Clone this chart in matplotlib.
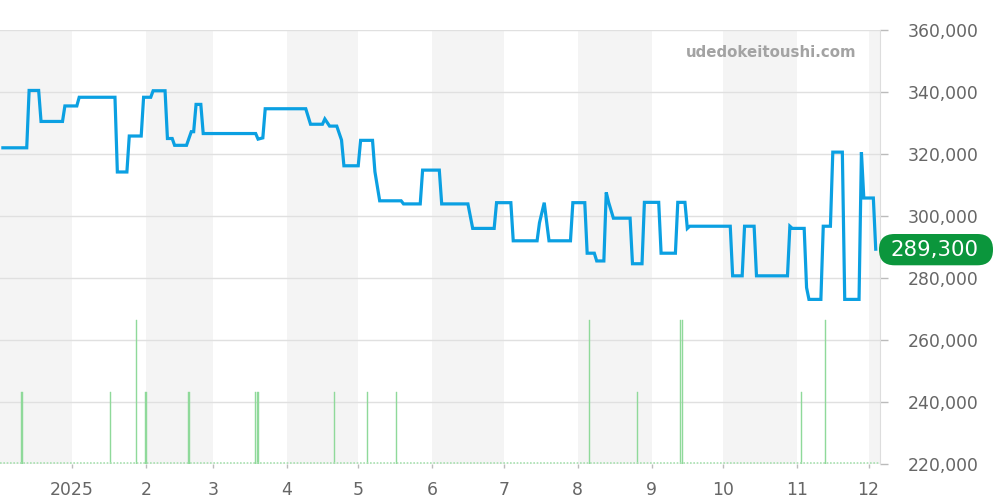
import matplotlib
matplotlib.use("Agg")
import matplotlib.pyplot as plt
from matplotlib.patches import FancyBboxPatch
from matplotlib.transforms import IdentityTransform
import pandas as pd

price_dates = [
  "2024-12-03", "2024-12-13", "2024-12-14", "2024-12-18", "2024-12-19", "2024-12-28", "2024-12-29",
  "2025-01-03", "2025-01-04", "2025-01-19", "2025-01-20", "2025-01-24", "2025-01-25", "2025-01-30",
  "2025-01-31", "2025-02-03", "2025-02-04", "2025-02-09", "2025-02-10", "2025-02-12", "2025-02-13",
  "2025-02-18", "2025-02-20", "2025-02-21", "2025-02-22", "2025-02-24", "2025-02-25", "2025-03-19",
  "2025-03-20", "2025-03-22", "2025-03-23", "2025-04-09", "2025-04-11", "2025-04-16", "2025-04-17",
  "2025-04-19", "2025-04-22", "2025-04-24", "2025-04-25", "2025-05-01", "2025-05-02", "2025-05-07",
  "2025-05-08", "2025-05-10", "2025-05-19", "2025-05-20", "2025-05-27", "2025-05-28", "2025-06-04",
  "2025-06-05", "2025-06-16", "2025-06-18", "2025-06-27", "2025-06-28", "2025-07-04", "2025-07-05",
  "2025-07-15", "2025-07-16", "2025-07-18", "2025-07-20", "2025-07-29", "2025-07-30", "2025-08-04",
  "2025-08-05", "2025-08-08", "2025-08-09", "2025-08-12", "2025-08-13", "2025-08-14", "2025-08-16",
  "2025-08-23", "2025-08-24", "2025-08-28", "2025-08-29", "2025-09-04", "2025-09-05", "2025-09-11",
  "2025-09-12", "2025-09-15", "2025-09-16", "2025-09-17", "2025-10-04", "2025-10-05", "2025-10-09",
  "2025-10-10", "2025-10-14", "2025-10-15", "2025-10-28", "2025-10-29", "2025-10-30", "2025-11-04",
  "2025-11-05", "2025-11-06", "2025-11-11", "2025-11-12", "2025-11-15", "2025-11-16", "2025-11-20",
  "2025-11-21", "2025-11-27", "2025-11-28", "2025-11-29", "2025-12-03", "2025-12-04",
]
prices = [
  322000, 322000, 340500, 340500, 330500, 330500, 335500,
  335500, 338300, 338300, 314200, 314200, 325800, 325800,
  338300, 338300, 340400, 340400, 325000, 325000, 322800,
  322800, 327200, 327200, 336000, 336000, 326600, 326600,
  324800, 325200, 334600, 334600, 329600, 329600, 331300,
  329000, 329000, 324500, 316200, 316200, 324400, 324400,
  314300, 304900, 304900, 303900, 303900, 314800, 314800,
  303900, 303900, 296000, 296000, 304300, 304300, 292000,
  292000, 297800, 304300, 292000, 292000, 304300, 304300,
  288000, 288000, 285500, 285500, 307600, 304400, 299300,
  299300, 284600, 284600, 304400, 304400, 288000, 288000,
  304400, 304400, 296000, 296700, 296700, 280700, 280700,
  296700, 296700, 280700, 280700, 296700, 296000, 296000,
  276900, 273100, 273100, 296700, 296700, 320600, 320600,
  273100, 273100, 320600, 305800, 305800, 289300,
]

volume_dates = [
  "2024-12-11", "2025-01-17", "2025-01-28", "2025-02-01", "2025-02-19", "2025-03-19", "2025-03-20",
  "2025-04-21", "2025-05-05", "2025-05-17", "2025-08-06", "2025-08-26", "2025-09-13", "2025-09-14",
  "2025-11-03", "2025-11-13",
]
volumes = [1, 1, 2, 1, 1, 1, 1, 1, 1, 1, 2, 1, 2, 2, 1, 2]

month_starts = pd.date_range("2025-01-01", "2025-12-01", freq="MS")
month_labels = ["2025", "2", "3", "4", "5", "6", "7", "8", "9", "10", "11", "12"]
shaded_months = ["2024-12-01", "2025-02-01", "2025-04-01", "2025-06-01", "2025-08-01", "2025-10-01", "2025-12-01"]

y_ticks = [220000, 240000, 260000, 280000, 300000, 320000, 340000, 360000]
last_price = prices[-1]

x0 = pd.Timestamp("2024-12-01 19:00")
x1 = pd.Timestamp("2025-12-05 19:00")

fig = plt.figure(figsize=(10, 5), dpi=100)
ax = fig.add_axes([0.0, 0.072, 0.88, 0.868])

# alternating month bands
for m in shaded_months:
  start = pd.Timestamp(m)
  end = start + pd.offsets.MonthBegin(1)
  ax.axvspan(start, end, color="#f4f4f4", lw=0, zorder=0)

ax.set_yticks(y_ticks)
ax.grid(axis="y", color="#e0e0e0", lw=1, zorder=1)
ax.set_axisbelow(True)

ax.plot(pd.to_datetime(price_dates), prices, color="#0ba0e2", lw=2.3, zorder=3,
        solid_joinstyle="miter")

ax.set_xlim(x0, x1)
ax.set_ylim(220000, 360000)

# volume on a hidden twin axis
ax2 = ax.twinx()
ax2.bar(pd.to_datetime(volume_dates), volumes, width=0.55, color="#8fd99a",
        edgecolor="#8fd99a", lw=0.3, zorder=2)
ax2.axhline(0.02, color="#a8e0b0", lw=1.2, ls=(0, (1, 1)))
ax2.set_ylim(0, 6.03)
ax2.set_xlim(x0, x1)
ax2.set_yticks([])
for s in ax2.spines.values():
  s.set_visible(False)

ax.yaxis.tick_right()
ax.yaxis.set_major_formatter(matplotlib.ticker.FuncFormatter(lambda v, p: "{:,.0f}".format(v)))
ax.tick_params(axis="y", length=6, width=1, color="#bbbbbb", pad=14, labelsize=12.4, labelcolor="#666666")
ax.set_xticks(month_starts)
ax.set_xticklabels(month_labels)
ax.tick_params(axis="x", length=3, width=1, color="#bbbbbb", pad=9, labelsize=12.4, labelcolor="#666666")

for s in ["top", "left", "bottom"]:
  ax.spines[s].set_visible(False)
ax.spines["right"].set_color("#dddddd")

ax.text(0.876, 0.949, "udedokeitoushi.com", transform=ax.transAxes, ha="center", va="center",
        fontsize=10.8, fontweight="bold", color="#a3a3a3")

# last price badge
badge = FancyBboxPatch((879, 234.7), 114, 31.3, boxstyle="round,pad=0,rounding_size=15.5",
                       transform=IdentityTransform(), facecolor="#0b963c", edgecolor="none")
fig.patches.append(badge)
fig.text(0.934, (500 - 249.5) / 500, "{:,}".format(last_price), ha="center", va="center",
         fontsize=15.3, color="white")

fig.savefig("out.png", dpi=100)
